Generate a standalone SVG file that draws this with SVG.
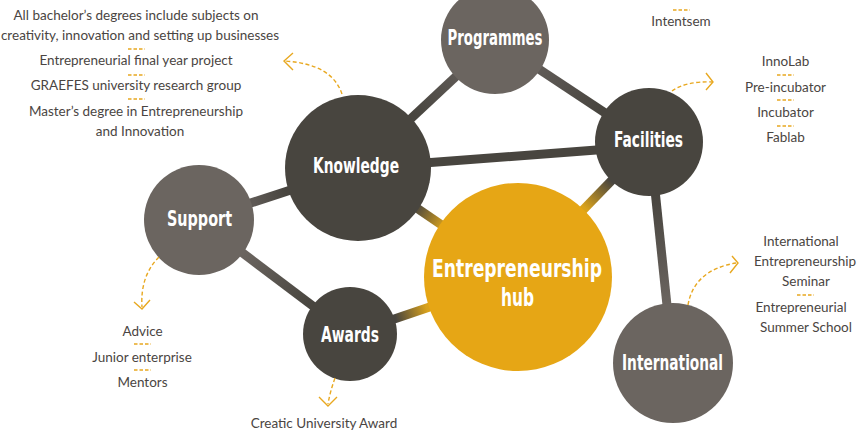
<svg xmlns="http://www.w3.org/2000/svg" width="863" height="432" viewBox="0 0 863 432">
<style>
.lbl{font-family:"DejaVu Sans Condensed","DejaVu Sans",sans-serif;font-weight:bold;fill:#ffffff;text-anchor:middle}
.txt{font-family:Lato,"Open Sans",sans-serif;font-size:13.5px;fill:#4a4542;text-anchor:middle}
.sep{stroke:#e8a820;stroke-width:1.5;stroke-dasharray:3.5 2}
.arr{fill:none;stroke:#e8a820;stroke-width:1.4;stroke-dasharray:4 2.5}
.head{fill:none;stroke:#e8a820;stroke-width:1.4}
.ln{stroke-width:9;fill:none}
</style>
<defs>
<linearGradient id="gKH" gradientUnits="userSpaceOnUse" x1="415" y1="207" x2="445" y2="225"><stop offset="0" stop-color="#48453f"/><stop offset="1" stop-color="#d9a21c"/></linearGradient>
<linearGradient id="gFH" gradientUnits="userSpaceOnUse" x1="610" y1="180" x2="585" y2="208"><stop offset="0" stop-color="#48453f"/><stop offset="1" stop-color="#d9a21c"/></linearGradient>
<linearGradient id="gAH" gradientUnits="userSpaceOnUse" x1="396" y1="319" x2="427" y2="309"><stop offset="0" stop-color="#48453f"/><stop offset="1" stop-color="#d9a21c"/></linearGradient>
<linearGradient id="gFI" gradientUnits="userSpaceOnUse" x1="655" y1="196" x2="667" y2="305"><stop offset="0" stop-color="#48453f"/><stop offset="1" stop-color="#6b6560"/></linearGradient>
<linearGradient id="gKS" gradientUnits="userSpaceOnUse" x1="254" y1="203" x2="286" y2="193"><stop offset="0" stop-color="#5e5955"/><stop offset="1" stop-color="#48453f"/></linearGradient>
<linearGradient id="gSA" gradientUnits="userSpaceOnUse" x1="240" y1="255" x2="310" y2="305"><stop offset="0" stop-color="#6b6560"/><stop offset="1" stop-color="#48453f"/></linearGradient>
<linearGradient id="gKP" gradientUnits="userSpaceOnUse" x1="415" y1="115" x2="460" y2="75"><stop offset="0" stop-color="#48453f"/><stop offset="1" stop-color="#5f5a56"/></linearGradient>
<linearGradient id="gPF" gradientUnits="userSpaceOnUse" x1="540" y1="70" x2="600" y2="110"><stop offset="0" stop-color="#5f5a56"/><stop offset="1" stop-color="#48453f"/></linearGradient>
</defs>

<g id="connectors">
<line class="ln" x1="358" y1="168" x2="495" y2="40" stroke="url(#gKP)"/>
<line class="ln" x1="495" y1="40" x2="649" y2="142" stroke="url(#gPF)"/>
<line class="ln" x1="358" y1="168" x2="649" y2="146" stroke="#48453f"/>
<line class="ln" x1="199" y1="220" x2="358" y2="168" stroke="url(#gKS)"/>
<line class="ln" x1="199" y1="220" x2="350" y2="334" stroke="url(#gSA)"/>
<line class="ln" x1="350" y1="334" x2="518" y2="277" stroke="url(#gAH)"/>
<line class="ln" x1="358" y1="168" x2="518" y2="277" stroke="url(#gKH)"/>
<line class="ln" x1="649" y1="142" x2="518" y2="277" stroke="url(#gFH)"/>
<line class="ln" x1="650" y1="142" x2="673" y2="363" stroke="url(#gFI)"/>
</g>

<g id="node-programmes">
<circle cx="495" cy="40" r="54" fill="#6b6560"/>
<text class="lbl" x="495" y="45" font-size="22" textLength="95" lengthAdjust="spacingAndGlyphs">Programmes</text>
</g>
<g id="node-knowledge">
<circle cx="358" cy="168" r="73" fill="#48453f"/>
<text class="lbl" x="356" y="173" font-size="22" textLength="86" lengthAdjust="spacingAndGlyphs">Knowledge</text>
</g>
<g id="node-facilities">
<circle cx="649" cy="142" r="54" fill="#48453f"/>
<text class="lbl" x="648.5" y="147" font-size="22" textLength="69" lengthAdjust="spacingAndGlyphs">Facilities</text>
</g>
<g id="node-support">
<circle cx="199" cy="220" r="55" fill="#6b6560"/>
<text class="lbl" x="199.5" y="226" font-size="22" textLength="65" lengthAdjust="spacingAndGlyphs">Support</text>
</g>
<g id="node-awards">
<circle cx="350" cy="334" r="47" fill="#48453f"/>
<text class="lbl" x="350" y="342" font-size="22" textLength="58" lengthAdjust="spacingAndGlyphs">Awards</text>
</g>
<g id="node-hub">
<circle cx="518" cy="277" r="94" fill="#e6a615"/>
<text class="lbl" x="517" y="277" font-size="25" textLength="170" lengthAdjust="spacingAndGlyphs">Entrepreneurship</text>
<text class="lbl" x="517.5" y="306" font-size="25" textLength="33" lengthAdjust="spacingAndGlyphs">hub</text>
</g>
<g id="node-international">
<circle cx="673" cy="363" r="60" fill="#6b6560"/>
<text class="lbl" x="672.5" y="370" font-size="22" textLength="101" lengthAdjust="spacingAndGlyphs">International</text>
</g>

<g id="annotation-arrows">
<path class="arr" d="M342,94 Q332,64 285,61"/>
<path class="head" d="M293,53 L284,61 L293,70"/>
<path class="arr" d="M672,91 Q686,81 712,82"/>
<path class="head" d="M706,73 L713,82 L706,90"/>
<path class="arr" d="M688,305 Q694,270 736,263"/>
<path class="head" d="M732,256 L738,263 L730,273"/>
<path class="arr" d="M159,257 Q140,276 142,307"/>
<path class="head" d="M134,302 L142,309 L150,300"/>
<path class="arr" d="M335,378 Q330,392 328,404"/>
<path class="head" d="M319,397 L328,406 L337,397"/>
</g>

<g id="list-knowledge">
<text class="txt" x="136" y="20">All bachelor’s degrees include subjects on</text>
<text class="txt" x="140" y="40">creativity, innovation and setting up businesses</text>
<line class="sep" x1="128" y1="49" x2="145" y2="49"/>
<text class="txt" x="136" y="65">Entrepreneurial final year project</text>
<line class="sep" x1="128" y1="75" x2="145" y2="75"/>
<text class="txt" x="136" y="90">GRAEFES university research group</text>
<line class="sep" x1="128" y1="99" x2="145" y2="99"/>
<text class="txt" x="136" y="116">Master’s degree in Entrepreneurship</text>
<text class="txt" x="140" y="136">and Innovation</text>
</g>

<g id="list-programmes">
<line class="sep" x1="673" y1="10" x2="690" y2="10"/>
<text class="txt" x="681" y="26">Intentsem</text>
</g>

<g id="list-facilities">
<text class="txt" x="785.5" y="66">InnoLab</text>
<line class="sep" x1="777" y1="75" x2="794" y2="75"/>
<text class="txt" x="785.5" y="92">Pre-incubator</text>
<line class="sep" x1="777" y1="100" x2="794" y2="100"/>
<text class="txt" x="785.5" y="117">Incubator</text>
<line class="sep" x1="777" y1="126" x2="794" y2="126"/>
<text class="txt" x="785.5" y="142">Fablab</text>
</g>

<g id="list-international">
<text class="txt" x="801" y="246">International</text>
<text class="txt" x="805" y="266">Entrepreneurship</text>
<text class="txt" x="806" y="286">Seminar</text>
<line class="sep" x1="797" y1="295" x2="814" y2="295"/>
<text class="txt" x="801" y="312">Entrepreneurial</text>
<text class="txt" x="806" y="332">Summer School</text>
</g>

<g id="list-support">
<text class="txt" x="142.5" y="336">Advice</text>
<line class="sep" x1="134" y1="344" x2="151" y2="344"/>
<text class="txt" x="142" y="362">Junior enterprise</text>
<line class="sep" x1="134" y1="370" x2="151" y2="370"/>
<text class="txt" x="142.5" y="387">Mentors</text>
</g>

<g id="list-awards">
<text class="txt" x="324" y="428">Creatic University Award</text>
</g>
</svg>
